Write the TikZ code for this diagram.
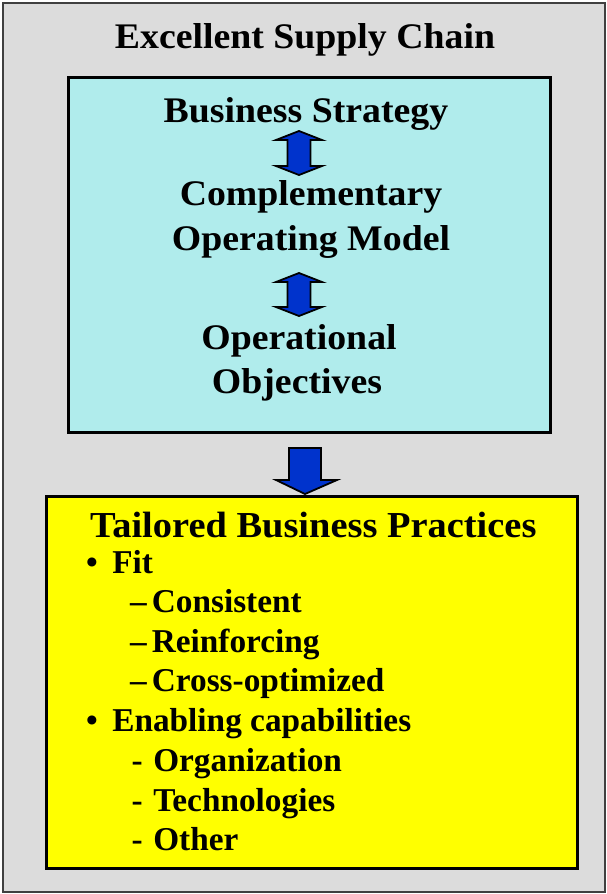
\documentclass[tikz,border=0pt]{standalone}
\usepackage{fontspec}
\newfontfamily\tf[FakeStretch=1.05]{Liberation Serif}
\newfontfamily\tfn{Liberation Serif}
\definecolor{outergray}{RGB}{220,220,220}
\definecolor{cyanfill}{RGB}{176,236,236}
\definecolor{yellowfill}{RGB}{255,255,0}
\definecolor{arrowblue}{RGB}{0,51,204}
\tikzset{
  panel/.style={draw=black, line width=3pt},
  txt/.style={font=\tf\bfseries\fontsize{36}{40}\selectfont, inner sep=0pt, text=black},
  txtitem/.style={font=\tfn\bfseries\fontsize{33.3}{38}\selectfont, inner sep=0pt, text=black, anchor=base west},
  blockarrow/.style={fill=arrowblue, draw=black, line width=1.8pt, line join=miter}
}
\begin{document}
\begin{tikzpicture}[x=1pt,y=-1pt]
\useasboundingbox (0,0) rectangle (606,894);
% outer frame
\draw[fill=outergray, draw=black!75, line width=2pt] (3,3) rectangle (605,892);
\node[txt, anchor=base] (title) at (305,48) {Excellent Supply Chain};
% cyan panel
\draw[panel, fill=cyanfill] (68,77) rectangle (550,432);
\node[txt, anchor=base] (strategy) at (306,122) {Business Strategy};
\node[txt, anchor=base] (comp1) at (311,205) {Complementary};
\node[txt, anchor=base] (comp2) at (311,250) {Operating Model};
\node[txt, anchor=base] (obj1) at (299,349) {Operational};
\node[txt, anchor=base] (obj2) at (297,393) {Objectives};
% double arrows
\foreach \t/\b in {131/175, 273/316}{
  \draw[blockarrow] (299,\t) -- (322,\t+9) -- (310.5,\t+9) -- (310.5,\b-9) -- (322,\b-9) -- (299,\b)
     -- (276,\b-9) -- (287.5,\b-9) -- (287.5,\t+9) -- (276,\t+9) -- cycle;
}
% down arrow
\draw[blockarrow] (289,448) -- (321,448) -- (321,480) -- (337,480) -- (305,494) -- (276,480) -- (289,480) -- cycle;
% yellow panel
\draw[panel, fill=yellowfill] (46,496) rectangle (577,868);
\node[txt, anchor=base west, font=\tf\bfseries\fontsize{36.6}{40}\selectfont] (tailored) at (90,537) {Tailored Business Practices};
\node[txtitem] (fit) at (86,573) {\textbullet\hspace{14.5pt}Fit};
\node[txtitem] (consistent) at (130,612) {\textendash\hspace{5pt}Consistent};
\node[txtitem] (reinforcing) at (130,652) {\textendash\hspace{5pt}Reinforcing};
\node[txtitem] (cross) at (130,691) {\textendash\hspace{5pt}Cross-optimized};
\node[txtitem] (enabling) at (86,731) {\textbullet\hspace{14.5pt}Enabling capabilities};
\node[txtitem] (org) at (131.5,771) {-\hspace{10.5pt}Organization};
\node[txtitem] (tech) at (131.5,811) {-\hspace{10.5pt}Technologies};
\node[txtitem] (other) at (131.5,850) {-\hspace{10.5pt}Other};
\end{tikzpicture}
\end{document}
